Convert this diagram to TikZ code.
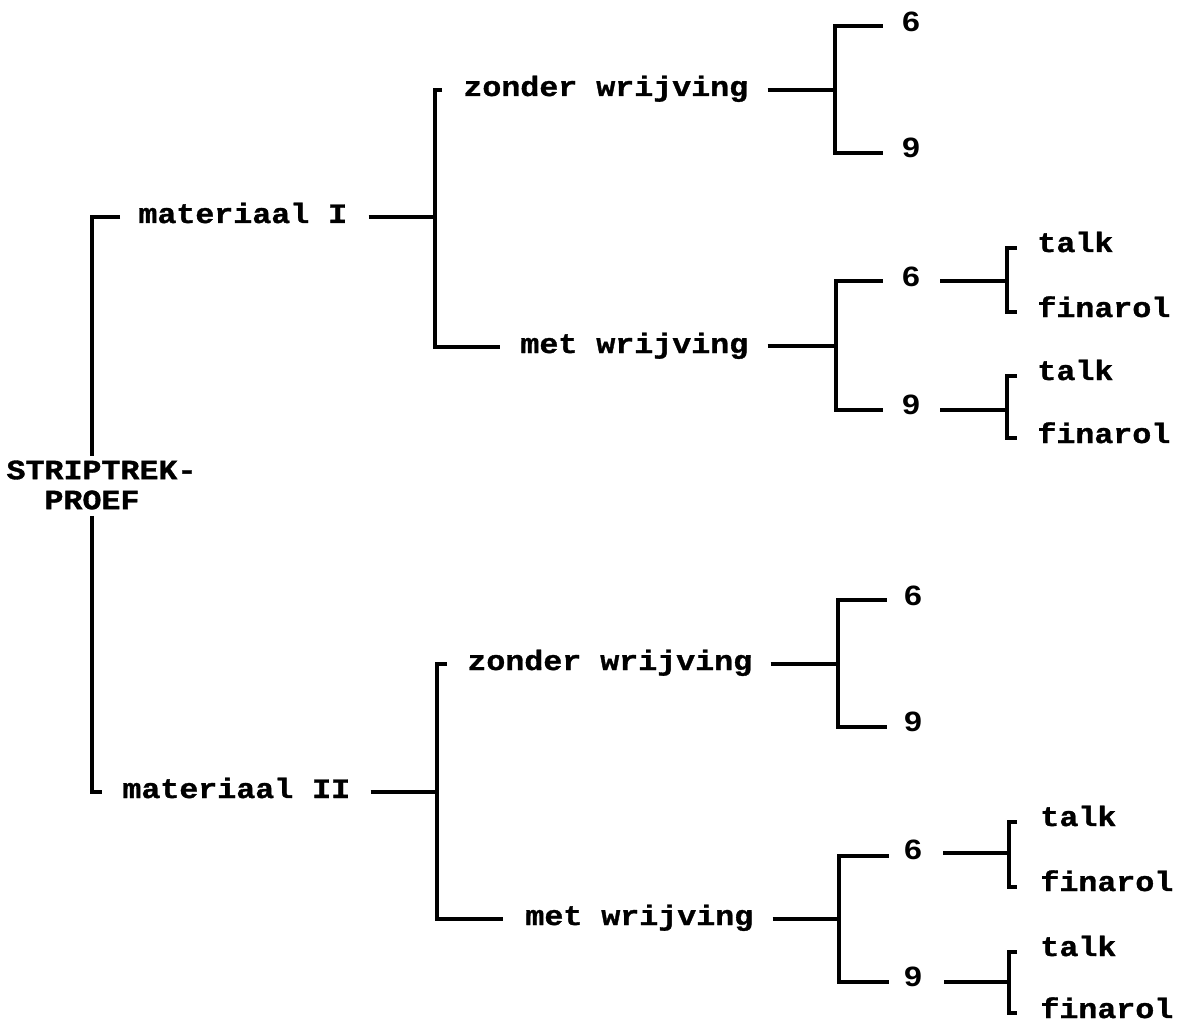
\documentclass[tikz,border=0pt]{standalone}
\usepackage{fontspec}
\newfontfamily\twf[FakeStretch=1.13, BoldFeatures={FakeBold=1.2}]{Liberation Mono}
\newfontfamily\numf[FakeStretch=1.15]{Liberation Sans}
\tikzset{
  tw/.style={font=\twf\bfseries\fontsize{14}{15}\selectfont, inner sep=0pt, anchor=base west},
  num/.style={font=\numf\bfseries\fontsize{14}{16}\selectfont, inner sep=0pt, anchor=center},
  br/.style={line width=1.6pt, line cap=butt, line join=miter}
}
\begin{document}
\begin{tikzpicture}[x=0.5pt,y=-0.5pt]
\useasboundingbox (0,0) rectangle (1181,1021);

% root
\node[tw, anchor=center, align=center] (root) at (92,485) {STRIPTREK\rlap{-}\\PROEF};

% level 1
\node[tw] (m1) at (138,223) {materiaal I};
\node[tw] (m2) at (122,798) {materiaal II};
\coordinate (T1) at (92,217);
\coordinate (T2) at (92,792);
\draw[br] ([shift={(-18,-6)}]m1.base west) -- (T1) -- ([yshift=2pt]root.north);
\draw[br] ([yshift=-3pt]root.south) -- (T2) -- ([shift={(-20,-6)}]m2.base west);

% level 2, top
\node[tw] (z1) at (463,96) {zonder wrijving};
\node[tw] (w1) at (520,353) {met wrijving};
\coordinate (J1) at (435,217);
\coordinate (J1a) at (435,90);
\coordinate (J1b) at (435,347);
\draw[br] ([shift={(21,-6)}]m1.base east) -- (J1);
\draw[br] ([shift={(-21,-6)}]z1.base west) -- (J1a) -- (J1b) -- ([shift={(-20,-6)}]w1.base west);

% level 2, bottom
\node[tw] (z2) at (467,670) {zonder wrijving};
\node[tw] (w2) at (525,925) {met wrijving};
\coordinate (J2) at (437,792);
\coordinate (J2a) at (437,664);
\coordinate (J2b) at (437,919);
\draw[br] ([shift={(20,-6)}]m2.base east) -- (J2);
\draw[br] ([shift={(-20,-6)}]z2.base west) -- (J2a) -- (J2b) -- ([shift={(-22,-6)}]w2.base west);

% level 3 numbers
\node[num] (n1) at (911,22) {6};
\node[num] (n2) at (911,148) {9};
\node[num] (n3) at (911,277) {6};
\node[num] (n4) at (911,405) {9};
\node[num] (n5) at (913,596) {6};
\node[num] (n6) at (913,722) {9};
\node[num] (n7) at (913,850) {6};
\node[num] (n8) at (913,977) {9};

\coordinate (K1) at (835,90);  \coordinate (K1a) at (835,26);  \coordinate (K1b) at (835,153);
\coordinate (K2) at (836,346); \coordinate (K2a) at (836,281); \coordinate (K2b) at (836,410);
\coordinate (K3) at (838,664); \coordinate (K3a) at (838,600); \coordinate (K3b) at (838,727);
\coordinate (K4) at (839,919); \coordinate (K4a) at (839,856); \coordinate (K4b) at (839,982);

\draw[br] ([shift={(19,-6)}]z1.base east) -- (K1);
\draw[br] ([shift={(-19,4)}]n1.west) -- (K1a) -- (K1b) -- ([shift={(-19,5)}]n2.west);
\draw[br] ([shift={(19,-7)}]w1.base east) -- (K2);
\draw[br] ([shift={(-19,4)}]n3.west) -- (K2a) -- (K2b) -- ([shift={(-19,5)}]n4.west);
\draw[br] ([shift={(18,-6)}]z2.base east) -- (K3);
\draw[br] ([shift={(-17,4)}]n5.west) -- (K3a) -- (K3b) -- ([shift={(-17,5)}]n6.west);
\draw[br] ([shift={(19,-6)}]w2.base east) -- (K4);
\draw[br] ([shift={(-15,6)}]n7.west) -- (K4a) -- (K4b) -- ([shift={(-15,5)}]n8.west);

% level 4
\node[tw] (t1) at (1037,252) {talk};
\node[tw] (f1) at (1037,317) {finarol};
\node[tw] (t2) at (1037,380) {talk};
\node[tw] (f2) at (1037,443) {finarol};
\node[tw] (t3) at (1040,826) {talk};
\node[tw] (f3) at (1040,891) {finarol};
\node[tw] (t4) at (1040,956) {talk};
\node[tw] (f4) at (1040,1018) {finarol};

\coordinate (L1) at (1007,281); \coordinate (L1a) at (1007,248); \coordinate (L1b) at (1007,312);
\coordinate (L2) at (1007,410); \coordinate (L2a) at (1007,376); \coordinate (L2b) at (1007,438);
\coordinate (L3) at (1009,853); \coordinate (L3a) at (1009,822); \coordinate (L3b) at (1009,887);
\coordinate (L4) at (1009,982); \coordinate (L4a) at (1009,952); \coordinate (L4b) at (1009,1013);

\draw[br] ([shift={(20,4)}]n3.east) -- (L1);
\draw[br] ([shift={(-20,-4)}]t1.base west) -- (L1a) -- (L1b) -- ([shift={(-20,-5)}]f1.base west);
\draw[br] ([shift={(20,5)}]n4.east) -- (L2);
\draw[br] ([shift={(-20,-4)}]t2.base west) -- (L2a) -- (L2b) -- ([shift={(-20,-5)}]f2.base west);
\draw[br] ([shift={(21,3)}]n7.east) -- (L3);
\draw[br] ([shift={(-23,-4)}]t3.base west) -- (L3a) -- (L3b) -- ([shift={(-23,-4)}]f3.base west);
\draw[br] ([shift={(22,5)}]n8.east) -- (L4);
\draw[br] ([shift={(-23,-4)}]t4.base west) -- (L4a) -- (L4b) -- ([shift={(-23,-5)}]f4.base west);
\end{tikzpicture}
\end{document}
